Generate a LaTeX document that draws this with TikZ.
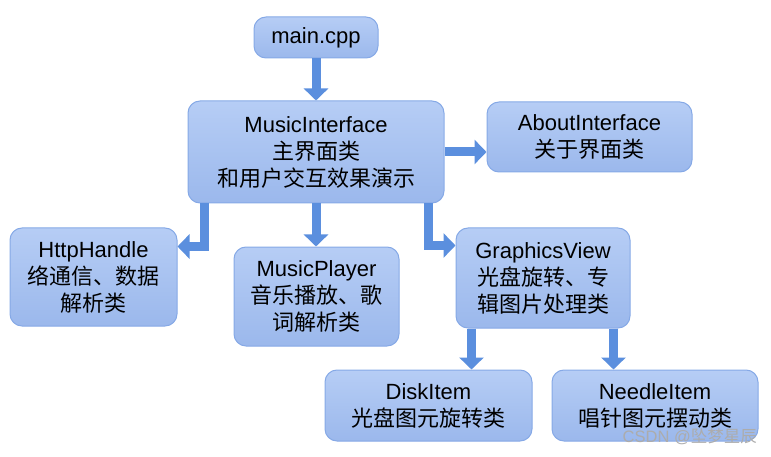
\documentclass[tikz,border=0pt]{standalone}
\usepackage{fontspec}
\setmainfont{Liberation Sans}
\newfontfamily\cjk{Noto Sans CJK SC}
\usetikzlibrary{arrows.meta,calc}
\definecolor{boxtop}{HTML}{B6CDF5}
\definecolor{boxbot}{HTML}{9BB8EC}
\definecolor{boxline}{HTML}{86A9E6}
\definecolor{arrowc}{HTML}{5B8FDE}
\tikzset{
  cls/.style={draw=boxline, line width=1pt, rounded corners=12pt, top color=boxtop, bottom color=boxbot,
    align=center, inner sep=0pt, font=\fontsize{22}{27}\selectfont, text=black},
  blk/.style={draw=arrowc, line width=9pt, -{Triangle[width=24pt,length=12pt]}}
}
\begin{document}
\begin{tikzpicture}[x=1pt,y=-1pt]
\useasboundingbox (0,0) rectangle (771,457);
\node[cls, minimum width=124pt, minimum height=41pt] (main) at (316,37.5) {main.cpp};
\node[cls, minimum width=256pt, minimum height=102pt] (mi) at (316,152) {MusicInterface\\{\cjk 主界面类}\\{\cjk 和用户交互效果演示}};
\node[cls, minimum width=205pt, minimum height=70pt] (about) at (589.5,137) {AboutInterface\\{\cjk 关于界面类}};
\node[cls, minimum width=167pt, minimum height=98pt] (http) at (93.5,277) {HttpHandle\\{\cjk 络通信、数据}\\{\cjk 解析类}};
\node[cls, minimum width=165pt, minimum height=99pt] (mp) at (316.5,296.5) {MusicPlayer\\{\cjk 音乐播放、歌}\\{\cjk 词解析类}};
\node[cls, minimum width=174pt, minimum height=100pt] (gv) at (543,278) {GraphicsView\\{\cjk 光盘旋转、专}\\{\cjk 辑图片处理类}};
\node[cls, minimum width=207pt, minimum height=71pt] (disk) at (428.5,405.5) {DiskItem\\{\cjk 光盘图元旋转类}};
\node[cls, minimum width=206pt, minimum height=71pt] (needle) at (655,405.5) {NeedleItem\\{\cjk 唱针图元摆动类}};
\coordinate (gvl) at ($(gv.south west)+(16,0)$);
\coordinate (gvr) at ($(gv.south east)+(-17,0)$);
\coordinate (mil) at ($(mi.south west)+(17,0)$);
\coordinate (mir) at ($(mi.south east)+(-16,0)$);
\coordinate (httpin) at ($(http.north east)+(0,19)$);
\coordinate (gvin) at ($(gv.north west)+(0,18)$);
\draw[blk] (main.south) -- (main.south |- mi.north);
\draw[blk] (mi.east) -- (mi.east -| about.west);
\draw[blk] (mi.south) -- (mi.south |- mp.north);
\draw[blk] (mil) |- (httpin);
\draw[blk] (mir) |- (gvin);
\draw[blk] (gvl) -- (gvl |- disk.north);
\draw[blk] (gvr) -- (gvr |- needle.north);
\node[text=gray!65, font=\fontsize{16.5}{19}\selectfont, anchor=east, inner sep=0pt] (wm) at (757,437) {CSDN @{\cjk 坠梦星辰}};
\end{tikzpicture}
\end{document}
